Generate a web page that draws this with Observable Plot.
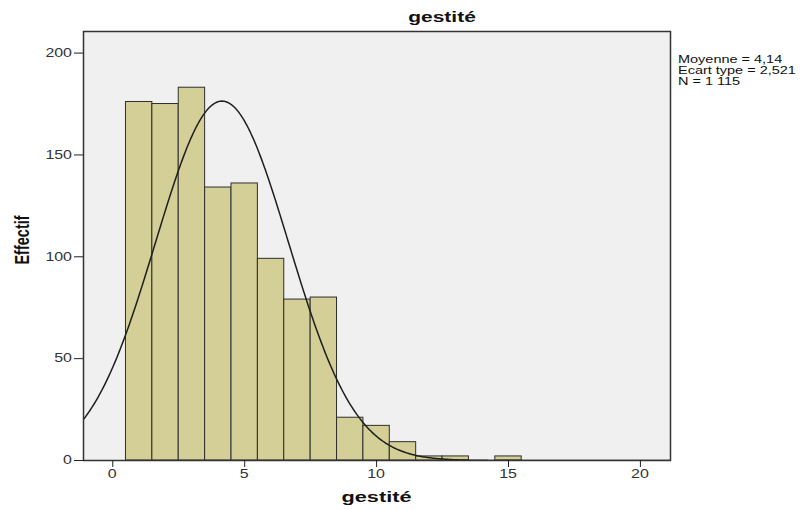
<!DOCTYPE html>
<html>
<head>
<meta charset="utf-8">
<script src="https://cdn.jsdelivr.net/npm/d3@7"></script>
<script src="https://cdn.jsdelivr.net/npm/@observablehq/plot@0.6"></script>
<style>
  html, body { margin: 0; padding: 0; background: #fff; }
  #chart svg { display: block; font-family: "Liberation Sans", Arial, sans-serif; }
</style>
</head>
<body>
<div id="chart"></div>
<script>
// Data
const bins   = [1, 2, 3, 4, 5, 6, 7, 8, 9, 10, 11, 12, 13, 14, 15];
const counts = [176, 175, 183, 134, 136, 99, 79, 80, 21, 17, 9, 2, 2, 0, 2];
const xTicks = [0, 5, 10, 15, 20];
const yTicks = [0, 50, 100, 150, 200];
const statLines = ["Moyenne = 4,14", "Ecart type = 2,521", "N = 1 115"];
const meanVal = 4.14, sdVal = 2.521, nVal = 1115, binWidth = 1;
const title = "gestité";
const xLabel = "gestité";
const yLabel = "Effectif";

const xDomain = [-1.11, 21.14];
const yDomain = [0, 210.6];

const barData = bins.map((b, i) => ({x1: b - binWidth / 2, x2: b + binWidth / 2, y: counts[i]}));

// Fitted normal curve from the stated mean / sd / N
const curve = d3.range(xDomain[0], xDomain[1] + 0.001, 0.05).map(x => ({
  x,
  y: nVal * binWidth * Math.exp(-0.5 * ((x - meanVal) / sdVal) ** 2) / (sdVal * Math.sqrt(2 * Math.PI))
}));

const W = 809, H = 510;
const mL = 83, mR = 139, mT = 31, mB = 50;

const chart = Plot.plot({
  width: W, height: H,
  marginLeft: mL, marginRight: mR, marginTop: mT, marginBottom: mB,
  x: {domain: xDomain},
  y: {domain: yDomain},
  style: {fontFamily: "Liberation Sans, Arial, sans-serif", fontSize: "12px", color: "#222"},
  marks: [
    Plot.frame({fill: "#f0f0f0", stroke: "none"}),
    Plot.rectY(barData, {x1: "x1", x2: "x2", y: "y", fill: "#d3cf97", stroke: "#2e2e2e", strokeWidth: 1}),
    Plot.line(curve, {x: "x", y: "y", stroke: "#1e1e1e", strokeWidth: 1.5, clip: true}),
    Plot.frame({stroke: "#333", strokeWidth: 1.5}),
    Plot.axisY({ticks: yTicks, tickSize: 9, label: null, tickFormat: () => "", stroke: "#222"}),
    Plot.axisX({ticks: xTicks, tickSize: 7, label: null, tickFormat: () => "", stroke: "#222"})
  ]
});

document.getElementById("chart").appendChild(chart);

const svg = d3.select(chart);
const xs = chart.scale("x"), ys = chart.scale("y");

// Tick labels (reference text is horizontally wide, so stretch about the anchor)
const tl = svg.append("g").attr("font-size", 12).attr("fill", "#333");
yTicks.forEach(v => {
  tl.append("text")
    .attr("transform", `translate(${mL - 11},${ys.apply(v)}) scale(1.33,1)`)
    .attr("text-anchor", "end").attr("dy", "0.35em")
    .text(String(v));
});
xTicks.forEach(v => {
  tl.append("text")
    .attr("transform", `translate(${xs.apply(v)},${H - mB + 18}) scale(1.33,1)`)
    .attr("text-anchor", "middle")
    .text(String(v));
});

svg.append("text")
  .attr("transform", "translate(442,22) scale(1.4,1)")
  .attr("text-anchor", "middle")
  .attr("font-size", 15).attr("font-weight", "bold").attr("fill", "#111")
  .text(title);

svg.append("text")
  .attr("transform", `translate(${(mL + (W - mR)) / 2},502) scale(1.45,1)`)
  .attr("text-anchor", "middle")
  .attr("font-size", 15).attr("font-weight", "bold").attr("fill", "#111")
  .text(xLabel);

svg.append("text")
  .attr("transform", `translate(29,240) scale(1.4,1) rotate(-90)`)
  .attr("text-anchor", "middle")
  .attr("font-size", 14.5).attr("font-weight", "bold").attr("fill", "#111")
  .text(yLabel);

const leg = svg.append("g").attr("font-size", 10.5).attr("fill", "#111");
statLines.forEach((t, i) => {
  leg.append("text")
    .attr("transform", `translate(678,${62.5 + i * 11}) scale(1.38,1)`)
    .attr("text-anchor", "start").text(t);
});
</script>
</body>
</html>
